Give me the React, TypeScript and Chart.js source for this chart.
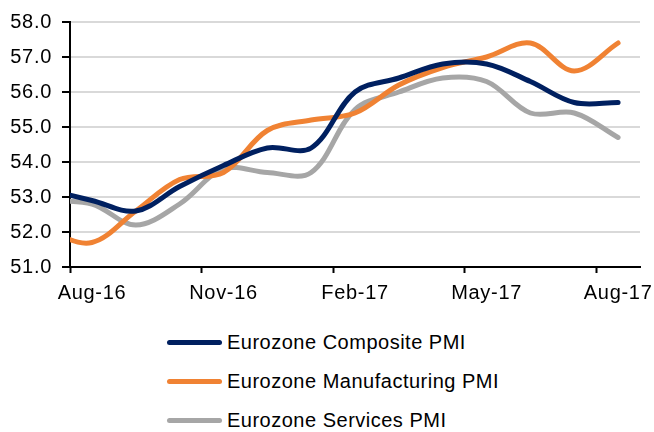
import React, { useEffect, useRef } from "react";
import { Chart, registerables } from "chart.js";

Chart.register(...registerables);

// Monthly readings (Jul-16 lies just before the axis start and is clipped, as in the original)
const months = [
  "Jul-16", "Aug-16", "Sep-16", "Oct-16", "Nov-16", "Dec-16", "Jan-17",
  "Feb-17", "Mar-17", "Apr-17", "May-17", "Jun-17", "Jul-17", "Aug-17",
];
const compositePMI = [53.2, 52.9, 52.6, 53.3, 53.9, 54.4, 54.4, 56.0, 56.4, 56.8, 56.8, 56.3, 55.7, 55.7];
const manufacturingPMI = [52.0, 51.7, 52.6, 53.5, 53.7, 54.9, 55.2, 55.4, 56.2, 56.7, 57.0, 57.4, 56.6, 57.4];
const servicesPMI = [52.9, 52.8, 52.2, 52.8, 53.8, 53.7, 53.7, 55.5, 56.0, 56.4, 56.3, 55.4, 55.4, 54.7];

const xTickLabels = ["Aug-16", "Nov-16", "Feb-17", "May-17", "Aug-17"];
const seriesNames = ["Eurozone Composite PMI", "Eurozone Manufacturing PMI", "Eurozone Services PMI"];
const seriesColors = ["#002060", "#F08233", "#A6A6A6"];

const AXIS_START = "Aug-16";
const FONT = "'Liberation Sans', Arial, sans-serif";

// x unit: months since the start of the first labelled month; readings sit mid-month
function toPoints(values: number[]) {
  const start = months.indexOf(AXIS_START);
  return values.map((y, i) => ({ x: i - start + 0.5, y }));
}

const letterSpacingPlugin = {
  id: "letterSpacing",
  beforeInit(chart: any) {
    try {
      chart.ctx.letterSpacing = "0.7px";
    } catch (e) {}
  },
  beforeDraw(chart: any) {
    try {
      chart.ctx.letterSpacing = "0.7px";
    } catch (e) {}
  },
};

export default function App() {
  const ref = useRef<HTMLCanvasElement | null>(null);

  useEffect(() => {
    document.body.style.margin = "0";
    const canvas = ref.current;
    if (!canvas) return;
    const allSeries = [compositePMI, manufacturingPMI, servicesPMI];
    const chart = new Chart(canvas, {
      type: "line",
      data: {
        datasets: allSeries.map((vals, i) => ({
          label: seriesNames[i],
          data: toPoints(vals),
          borderColor: seriesColors[i],
          backgroundColor: seriesColors[i],
          borderWidth: 5,
          pointRadius: 0,
          tension: 0.35,
          borderCapStyle: "round",
          borderJoinStyle: "round",
          clip: 0,
          fill: false,
        })),
      },
      plugins: [letterSpacingPlugin],
      options: {
        responsive: false,
        animation: false,
        layout: { padding: { top: 18, right: 14, left: 0, bottom: 0 } },
        plugins: { legend: { display: false }, tooltip: { enabled: false } },
        scales: {
          x: {
            type: "linear",
            min: 0,
            max: 13,
            grid: {
              display: true,
              drawOnChartArea: false,
              drawTicks: true,
              tickLength: 6,
              tickColor: "#000",
              tickWidth: 2,
            },
            border: { display: true, color: "#000", width: 2 },
            ticks: {
              stepSize: 3,
              includeBounds: false,
              autoSkip: false,
              maxRotation: 0,
              minRotation: 0,
              labelOffset: 22,
              padding: 8,
              color: "#000",
              font: { family: FONT, size: 20 },
              callback: (v: any) => {
                const idx = Math.round(Number(v) / 3);
                return xTickLabels[idx] ?? "";
              },
            },
            afterFit: (scale: any) => {
              scale.height = 38;
            },
          },
          y: {
            min: 51,
            max: 58,
            grid: {
              color: (ctx: any) =>
                ctx.tick && ctx.tick.value === 51 ? "rgba(0,0,0,0)" : "#D9D9D9",
              lineWidth: 2,
              tickLength: 8,
              tickColor: "#000",
              tickWidth: 2,
            },
            border: { display: true, color: "#000", width: 2 },
            ticks: {
              stepSize: 1,
              padding: 10,
              color: "#000",
              font: { family: FONT, size: 20 },
              callback: (v: any) => Number(v).toFixed(1),
            },
            afterFit: (scale: any) => {
              scale.width = 70;
            },
          },
        },
      },
    } as any);
    return () => chart.destroy();
  }, []);

  const legendTops = [330, 369, 408];

  return (
    <div style={{ position: "relative", width: 654, height: 432, background: "#fff" }}>
      <canvas ref={ref} width={654} height={305} style={{ display: "block" }} />
      {seriesNames.map((name, i) => (
        <div
          key={name}
          style={{
            position: "absolute",
            left: 167,
            top: legendTops[i],
            height: 24,
            display: "flex",
            alignItems: "center",
            fontFamily: FONT,
            fontSize: 20,
            lineHeight: "24px",
            letterSpacing: "0.5px",
            color: "#000",
            whiteSpace: "nowrap",
          }}
        >
          <span
            style={{
              display: "inline-block",
              width: 55,
              height: 5,
              borderRadius: 3,
              background: seriesColors[i],
              marginRight: 5,
            }}
          />
          <span>{name}</span>
        </div>
      ))}
    </div>
  );
}
